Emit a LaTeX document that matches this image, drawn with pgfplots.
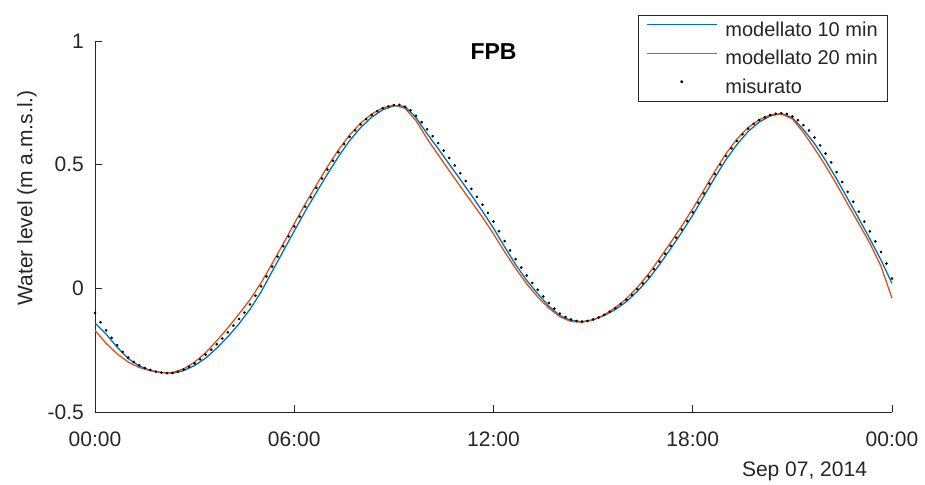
\documentclass[border=0pt]{standalone}
\usepackage{pgfplots}
\pgfplotsset{compat=1.18}
\usepackage{fontspec}
\setmainfont{Liberation Sans}
\definecolor{mblue}{RGB}{0,114,189}
\definecolor{morange}{RGB}{217,83,25}
\definecolor{mgray}{rgb}{0.15,0.15,0.15}
\pgfplotsset{
  linelegend/.style={legend image code/.code={\draw[##1] (0bp,5bp) -- (70bp,5bp);}},
  dotlegend/.style={legend image code/.code={\draw[##1] plot coordinates {(35bp,5bp)};}},
}
\begin{document}
\begin{tikzpicture}
\begin{axis}[
  name=ax,
  scale only axis, width=797bp, height=371bp,
  xmin=0, xmax=1440, ymin=-0.5, ymax=1,
  axis lines*=left,
  axis line style={draw=mgray, line width=0.9bp},
  tick align=inside,
  major tick length=7bp,
  tick style={draw=mgray, line width=0.9bp},
  xtick={0,360,720,1080,1440},
  xticklabels={00:00,06:00,12:00,18:00,00:00},
  ytick={-0.5,0,0.5,1},
  yticklabels={-0.5,0,0.5,1},
  ticklabel style={font=\fontsize{21bp}{25bp}\selectfont, text=mgray},
  xticklabel style={anchor=north, inner sep=0pt, yshift=-20bp},
  yticklabel style={anchor=east, inner sep=0pt, xshift=-11bp},
  ylabel={Water level (m a.m.s.l.)},
  every axis y label/.style={at={(axis description cs:-0.0853,0.577)}, rotate=90, anchor=center, inner sep=0pt, font=\fontsize{21bp}{25bp}\selectfont, text=mgray},
  title={FPB},
  every axis title/.style={at={(axis description cs:0.5,0.9488)}, anchor=base, inner sep=0pt, font=\bfseries\fontsize{23bp}{27bp}\selectfont},
  clip=false,
  legend cell align=left,
  legend style={at={(axis description cs:1,1)}, anchor=north east, xshift=-4bp, yshift=26bp,
    draw=mgray, line width=0.7bp, inner xsep=8bp, inner ysep=4.5bp, column sep=6bp, row sep=8.5bp,
    font=\fontsize{20bp}{24bp}\selectfont, text=mgray},
]
\addplot[mblue, line width=1.3bp, linelegend] table {
0 -0.140
20 -0.185
40 -0.238
60 -0.284
80 -0.314
100 -0.332
120 -0.341
140 -0.343
160 -0.333
180 -0.312
200 -0.282
220 -0.242
240 -0.196
260 -0.144
280 -0.085
300 -0.015
320 0.068
340 0.150
360 0.232
380 0.312
400 0.388
420 0.462
440 0.533
460 0.597
480 0.650
500 0.692
520 0.722
540 0.738
560 0.736
580 0.690
600 0.625
620 0.565
640 0.502
660 0.440
680 0.377
700 0.312
720 0.243
740 0.168
760 0.096
780 0.032
800 -0.022
820 -0.072
840 -0.110
860 -0.130
880 -0.135
900 -0.127
920 -0.110
940 -0.086
960 -0.054
980 -0.012
1000 0.037
1020 0.096
1040 0.160
1060 0.226
1080 0.296
1100 0.372
1120 0.448
1140 0.520
1160 0.582
1180 0.634
1200 0.672
1220 0.697
1240 0.707
1260 0.690
1280 0.642
1300 0.585
1320 0.517
1340 0.442
1360 0.362
1380 0.282
1400 0.200
1420 0.115
1440 0.020
};
\addlegendentry{modellato 10 min}
\addplot[morange, line width=1.3bp, linelegend] table {
0 -0.170
20 -0.222
40 -0.265
60 -0.298
80 -0.320
100 -0.333
120 -0.340
140 -0.340
160 -0.326
180 -0.298
200 -0.260
220 -0.212
240 -0.160
260 -0.104
280 -0.046
300 0.022
320 0.100
340 0.180
360 0.262
380 0.342
400 0.418
420 0.492
440 0.560
460 0.620
480 0.668
500 0.705
520 0.730
540 0.741
560 0.728
580 0.678
600 0.605
620 0.540
640 0.476
660 0.412
680 0.350
700 0.288
720 0.220
740 0.148
760 0.080
780 0.018
800 -0.035
820 -0.080
840 -0.115
860 -0.134
880 -0.137
900 -0.128
920 -0.107
940 -0.078
960 -0.042
980 0.004
1000 0.058
1020 0.120
1040 0.185
1060 0.252
1080 0.322
1100 0.397
1120 0.474
1140 0.545
1160 0.604
1180 0.650
1200 0.682
1220 0.701
1240 0.705
1260 0.685
1280 0.630
1300 0.565
1320 0.495
1340 0.420
1360 0.340
1380 0.262
1400 0.182
1420 0.090
1440 -0.040
};
\addlegendentry{modellato 20 min}
\addplot[only marks, mark=*, mark size=1.1bp, black, dotlegend] table {
0 -0.100
10 -0.137
20 -0.170
30 -0.200
40 -0.230
50 -0.257
60 -0.280
70 -0.298
80 -0.311
90 -0.322
100 -0.330
110 -0.337
120 -0.341
130 -0.343
140 -0.342
150 -0.337
160 -0.328
170 -0.317
180 -0.303
190 -0.287
200 -0.268
210 -0.248
220 -0.226
230 -0.203
240 -0.178
250 -0.151
260 -0.124
270 -0.098
280 -0.065
290 -0.030
300 0.008
310 0.048
320 0.088
330 0.128
340 0.170
350 0.210
360 0.250
370 0.290
380 0.330
390 0.368
400 0.406
410 0.444
420 0.480
430 0.516
440 0.550
450 0.583
460 0.612
470 0.639
480 0.663
490 0.684
500 0.701
510 0.716
520 0.728
530 0.736
540 0.741
550 0.742
560 0.734
570 0.720
580 0.698
590 0.672
600 0.643
610 0.615
620 0.587
630 0.557
640 0.527
650 0.497
660 0.465
670 0.434
680 0.402
690 0.370
700 0.338
710 0.305
720 0.270
730 0.231
740 0.191
750 0.153
760 0.118
770 0.084
780 0.052
790 0.022
800 -0.006
810 -0.033
820 -0.059
830 -0.082
840 -0.102
850 -0.116
860 -0.126
870 -0.132
880 -0.134
890 -0.132
900 -0.126
910 -0.118
920 -0.107
930 -0.095
940 -0.080
950 -0.063
960 -0.046
970 -0.026
980 -0.003
990 0.020
1000 0.048
1010 0.077
1020 0.108
1030 0.140
1040 0.172
1050 0.205
1060 0.238
1070 0.272
1080 0.308
1090 0.346
1100 0.384
1110 0.423
1120 0.462
1130 0.500
1140 0.535
1150 0.566
1160 0.596
1170 0.623
1180 0.646
1190 0.665
1200 0.680
1210 0.692
1220 0.701
1230 0.706
1240 0.708
1250 0.705
1260 0.695
1270 0.680
1280 0.660
1290 0.638
1300 0.610
1310 0.578
1320 0.545
1330 0.509
1340 0.470
1350 0.430
1360 0.390
1370 0.350
1380 0.310
1390 0.270
1400 0.230
1410 0.190
1420 0.147
1430 0.100
1440 0.040
};
\addlegendentry{misurato}
\end{axis}
\node[anchor=base, inner sep=0pt, text=mgray, font=\fontsize{21bp}{25bp}\selectfont] at ([xshift=709.5bp,yshift=-64.7bp]ax.south west) {Sep 07, 2014};
\path ([xshift=-95bp,yshift=-73bp]ax.south west) rectangle ([xshift=33bp,yshift=41bp]ax.north east);
\end{tikzpicture}
\end{document}
